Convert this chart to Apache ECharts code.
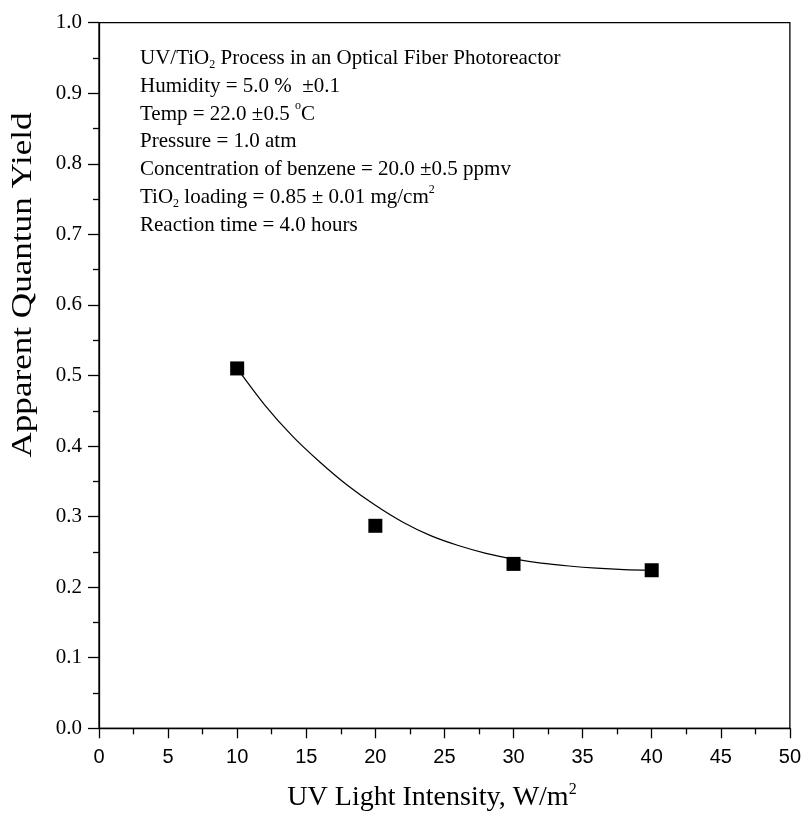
<!DOCTYPE html>
<html>
<head>
<meta charset="utf-8">
<script src="https://cdn.jsdelivr.net/npm/echarts@6/dist/echarts.min.js"></script>
<style>html,body{margin:0;padding:0;background:#fff;}#c{width:804px;height:815px;}</style>
</head>
<body>
<div id="c"></div>
<script>
// measured points
const intensity = [10, 20, 30, 40];
const quantumYield = [0.510, 0.287, 0.233, 0.224];
// fitted curve
const fitX = [10, 12, 14, 16, 18, 20, 22, 24, 26, 28, 30, 32, 34, 36, 38, 40];
const fitY = [0.510, 0.458, 0.414, 0.377, 0.344, 0.316, 0.292, 0.273, 0.259, 0.248, 0.240, 0.234, 0.230, 0.227, 0.225, 0.224];
// annotation lines (rich text)
const noteLines = [
  '{n|UV/TiO}{sub|2}{n| Process in an Optical Fiber Photoreactor}',
  '{n|Humidity = 5.0 %  \u00b10.1}',
  '{n|Temp = 22.0 \u00b10.5 }{sup|o}{n|C}',
  '{n|Pressure = 1.0 atm}',
  '{n|Concentration of benzene = 20.0 \u00b10.5 ppmv}',
  '{n|TiO}{sub|2}{n| loading = 0.85 \u00b1 0.01 mg/cm}{sup|2}',
  '{n|Reaction time = 4.0 hours}'
];
const xTitle = '{t|UV Light Intensity, W/m}{s|2}';
const yTitle = 'Apparent Quantun Yield';

const chart = echarts.init(document.getElementById('c'), null, {renderer: 'canvas'});
const serif = '"Liberation Serif", "Times New Roman", serif';
const sans = '"Liberation Sans", Arial, sans-serif';

const LH = 27.8;
const noteRich = {
  n: {fontFamily: serif, fontSize: 21, color: '#000', lineHeight: LH},
  sub: {fontFamily: serif, fontSize: 12, color: '#000', lineHeight: 12, verticalAlign: 'bottom', padding: [0, 0, 2, 0]},
  sup: {fontFamily: serif, fontSize: 12, color: '#000', lineHeight: 12, verticalAlign: 'top', padding: [0, 0, 0, 0]}
};

const graphics = [{
  type: 'text', left: 140, top: 48,
  style: {text: noteLines.join('\n'), rich: noteRich}
}];
graphics.push({
  type: 'text', x: 432, y: 798,
  style: {
    text: xTitle, align: 'center', verticalAlign: 'middle',
    rich: {
      t: {fontFamily: serif, fontSize: 28, color: '#000', lineHeight: 32},
      s: {fontFamily: serif, fontSize: 16, color: '#000', lineHeight: 16, verticalAlign: 'top'}
    }
  }
});
graphics.push({
  type: 'text', x: 23, y: 285, rotation: Math.PI / 2, scaleX: 1.17,
  style: {text: yTitle, font: '30px ' + serif, fill: '#000', align: 'center', verticalAlign: 'middle'}
});

chart.setOption({
  animation: false,
  backgroundColor: '#fff',
  grid: {left: 99, right: 12.3, top: 22.7, bottom: 86.7, show: true, borderColor: '#000', borderWidth: 1.3},
  xAxis: {
    type: 'value', min: 0, max: 50, interval: 5,
    axisLine: {show: true, onZero: false, lineStyle: {color: '#000', width: 1.3}},
    axisTick: {show: true, inside: false, length: 10, lineStyle: {color: '#000', width: 1.3}},
    minorTick: {show: true, splitNumber: 2, length: 6, lineStyle: {color: '#000', width: 1.3}},
    splitLine: {show: false},
    axisLabel: {color: '#000', fontFamily: sans, fontSize: 20, margin: 19, showMinLabel: true, showMaxLabel: true}
  },
  yAxis: {
    type: 'value', min: 0, max: 1, interval: 0.1,
    axisLine: {show: true, onZero: false, lineStyle: {color: '#000', width: 1.3}},
    axisTick: {show: true, inside: false, length: 11, lineStyle: {color: '#000', width: 1.3}},
    minorTick: {show: true, splitNumber: 2, length: 6, lineStyle: {color: '#000', width: 1.3}},
    splitLine: {show: false},
    axisLabel: {color: '#000', fontFamily: serif, fontSize: 21, margin: 17, formatter: v => v.toFixed(1), showMinLabel: true, showMaxLabel: true}
  },
  series: [
    {
      type: 'line', data: fitX.map((x, i) => [x, fitY[i]]), smooth: 0.3, showSymbol: false, symbol: 'none',
      lineStyle: {color: '#000', width: 1.2}, z: 2
    },
    {
      type: 'scatter', data: intensity.map((x, i) => [x, quantumYield[i]]), symbol: 'rect', symbolSize: 14,
      itemStyle: {color: '#000', opacity: 1}, z: 3
    }
  ],
  graphic: graphics
});
</script>
</body>
</html>
